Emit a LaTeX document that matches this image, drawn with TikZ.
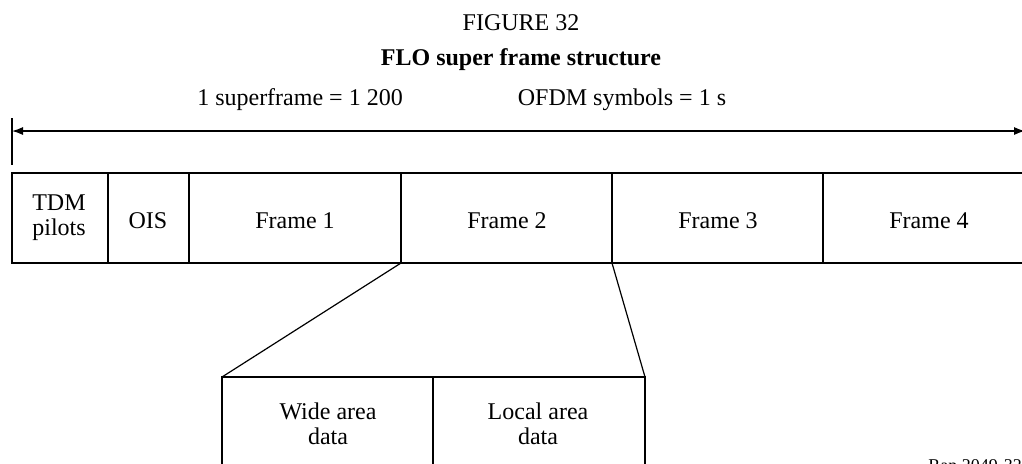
\documentclass[tikz,border=0pt]{standalone}
\usepackage{fontspec}
\setmainfont{Liberation Serif}
\usepackage{tikz}
\usetikzlibrary{arrows.meta}

\tikzset{
  lbl/.style={font=\fontsize{12}{12.5}\selectfont, align=center, inner sep=0pt},
  heavy/.style={line width=1.4pt},
  light/.style={line width=0.6pt},
}

\begin{document}
\begin{tikzpicture}[x=0.5pt, y=-0.5pt, >={Latex[length=5.5pt, width=4pt]}]
    \useasboundingbox (0,0) rectangle (1022,463);

    % 1. Judul gambar
    \node[lbl, anchor=base] (fig) at (521,30) {FIGURE 32};
    \node[lbl, anchor=base, font=\fontsize{12}{12.5}\selectfont\bfseries] (title) at (521,65) {FLO super frame structure};

    % 2. Panjang superframe dengan panah
    \node[lbl, anchor=base] (sflen) at (300,105) {1 superframe = 1 200};
    \node[lbl, anchor=base] (sfsym) at (622,105) {OFDM symbols = 1 s};
    \coordinate (tickTop) at (12,118);
    \coordinate (tickBot) at (12,165);
    \coordinate (arrL) at (12,131);
    \coordinate (arrR) at (1025,131);
    \draw[light] (tickTop) -- (tickBot);
    \draw[light, <->] (arrL) -- (arrR);

    % 3. Kotak superframe (sisi kanan terpotong)
    \foreach \x/\n in {108/a, 189/b, 401/c, 612/d, 823/e} {
        \coordinate (top\n) at (\x,173);
        \coordinate (bot\n) at (\x,263);
        \draw[light] (top\n) -- (bot\n);
    }
    \coordinate (sfNW) at (12,173);
    \coordinate (sfSW) at (12,263);
    \coordinate (sfNE) at (1040,173);
    \coordinate (sfSE) at (1040,263);
    \draw[heavy] (sfNE) -- (sfNW) -- (sfSW) -- (sfSE);

    % 4. Isi kotak superframe
    \node[lbl] (tdm) at (59,218) {TDM\\pilots};
    \node[lbl, anchor=base] (ois) at (148,228) {OIS};
    \node[lbl, anchor=base] (fr1) at (295,228) {Frame 1};
    \node[lbl, anchor=base] (fr2) at (507,228) {Frame 2};
    \node[lbl, anchor=base] (fr3) at (718,228) {Frame 3};
    \node[lbl, anchor=base] (fr4) at (929,228) {Frame 4};

    % 5. Perbesaran Frame 2
    \coordinate (subNW) at (222,377);
    \coordinate (subNE) at (645,377);
    \coordinate (subSW) at (222,475);
    \coordinate (subSE) at (645,475);
    \coordinate (subMidT) at (433,377);
    \coordinate (subMidB) at (433,475);
    \draw[light] (botc) -- (subNW);
    \draw[light] (botd) -- (subNE);
    \draw[light] (subMidT) -- (subMidB);
    \draw[heavy] (subSW) -- (subNW) -- (subNE) -- (subSE);
    \node[lbl] (wide) at (328,424) {Wide area\\data};
    \node[lbl] (local) at (538,424) {Local area\\data};

    % 6. Kode gambar (terpotong di bawah)
    \node[font=\fontsize{9}{9}\selectfont, anchor=north west, inner sep=0pt] (rap) at (928,459) {Rap 2049-32};
\end{tikzpicture}
\end{document}
